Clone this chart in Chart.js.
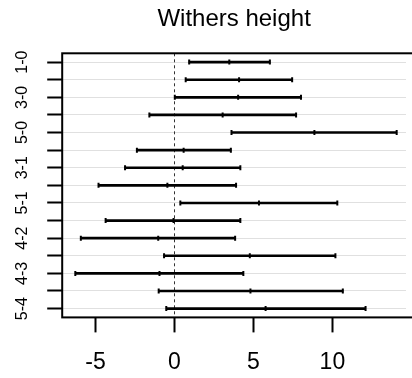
<!DOCTYPE html>
<html>
<head>
<meta charset="utf-8">
<script src="https://cdn.jsdelivr.net/npm/chart.js@4"></script>
<style>
  body { margin: 0; background: #fff; }
  #wrap { width: 412px; height: 378px; }
</style>
</head>
<body>
<div id="wrap"><canvas id="ci-chart"></canvas></div>
<script>
// pairwise comparisons, top to bottom
const comparisons = ['1-0', '2-0', '3-0', '4-0', '5-0', '2-1', '3-1', '4-1', '5-1', '3-2', '4-2', '5-2', '4-3', '5-3', '5-4'];
const lower = [0.93, 0.71, 0.02, -1.59, 3.61, -2.38, -3.13, -4.81, 0.37, -4.36, -5.93, -0.66, -6.28, -1.0, -0.52];
const diff = [3.47, 4.09, 4.03, 3.05, 8.86, 0.58, 0.52, -0.45, 5.35, -0.06, -1.03, 4.77, -0.95, 4.81, 5.77];
const upper = [6.04, 7.45, 8.01, 7.70, 14.07, 3.57, 4.17, 3.90, 10.31, 4.17, 3.84, 10.19, 4.36, 10.66, 12.10];
const xTicks = [-5, 0, 5, 10];

Chart.defaults.font.family = "'Liberation Sans', Arial, sans-serif";
Chart.defaults.color = '#000';

const ctx = document.getElementById('ci-chart').getContext('2d');

function capSet(vals) {
  return {
    type: 'line',
    showLine: false,
    data: vals.map((v, i) => ({ x: v, y: comparisons[i] })),
    pointStyle: 'line',
    rotation: 90,
    radius: 2.5,
    borderWidth: 2,
    borderColor: '#000',
    backgroundColor: '#000'
  };
}

// zero reference line + frame around the plot
const extras = {
  id: 'extras',
  beforeDatasetsDraw(chart) {
    const { ctx, chartArea, scales } = chart;
    const x0 = scales.x.getPixelForValue(0);
    ctx.save();
    ctx.strokeStyle = '#333';
    ctx.lineWidth = 1;
    ctx.setLineDash([3, 3]);
    ctx.beginPath();
    ctx.moveTo(Math.round(x0) + 0.5, chartArea.top);
    ctx.lineTo(Math.round(x0) + 0.5, chartArea.bottom);
    ctx.stroke();
    ctx.restore();
  },
  afterDraw(chart) {
    const { ctx, chartArea } = chart;
    ctx.save();
    ctx.strokeStyle = '#000';
    ctx.lineWidth = 2;
    ctx.strokeRect(chartArea.left, chartArea.top, chartArea.right - chartArea.left + 10, chartArea.bottom - chartArea.top);
    ctx.restore();
  }
};

new Chart(ctx, {
  type: 'bar',
  data: {
    labels: comparisons,
    datasets: [
      {
        data: lower.map((l, i) => [l, upper[i]]),
        backgroundColor: '#000',
        borderWidth: 0,
        barThickness: 2
      },
      capSet(lower),
      capSet(diff),
      capSet(upper)
    ]
  },
  options: {
    indexAxis: 'y',
    responsive: true,
    maintainAspectRatio: false,
    animation: false,
    layout: { padding: { left: 2, right: 0, top: 0, bottom: -14 } },
    plugins: {
      legend: { display: false },
      tooltip: { enabled: false },
      title: {
        display: true,
        text: 'Withers height',
        fullSize: false,
        font: { size: 24, weight: 'normal' },
        color: '#000',
        padding: { top: 5, bottom: 19.5 }
      }
    },
    scales: {
      x: {
        type: 'linear',
        min: -7.11,
        max: 14.66,
        afterBuildTicks(scale) {
          scale.ticks = xTicks.map(v => ({ value: v }));
        },
        grid: {
          drawOnChartArea: false,
          tickColor: '#000',
          tickWidth: 2,
          tickLength: 15
        },
        border: { display: false },
        ticks: { font: { size: 23 }, padding: 16, color: '#000' }
      },
      y: {
        type: 'category',
        offset: true,
        grid: {
          offset: false,
          color: '#e0e0e0',
          lineWidth: 1,
          tickColor: '#000',
          tickWidth: 2,
          tickLength: 15
        },
        border: { display: false },
        ticks: {
          autoSkip: false,
          minRotation: 90,
          maxRotation: 90,
          crossAlign: 'center',
          padding: 13,
          font: { size: 16 },
          color: '#000',
          callback(val, idx) {
            return idx % 2 === 0 ? comparisons[idx] : '';
          }
        }
      }
    }
  },
  plugins: [extras]
});
</script>
</body>
</html>
